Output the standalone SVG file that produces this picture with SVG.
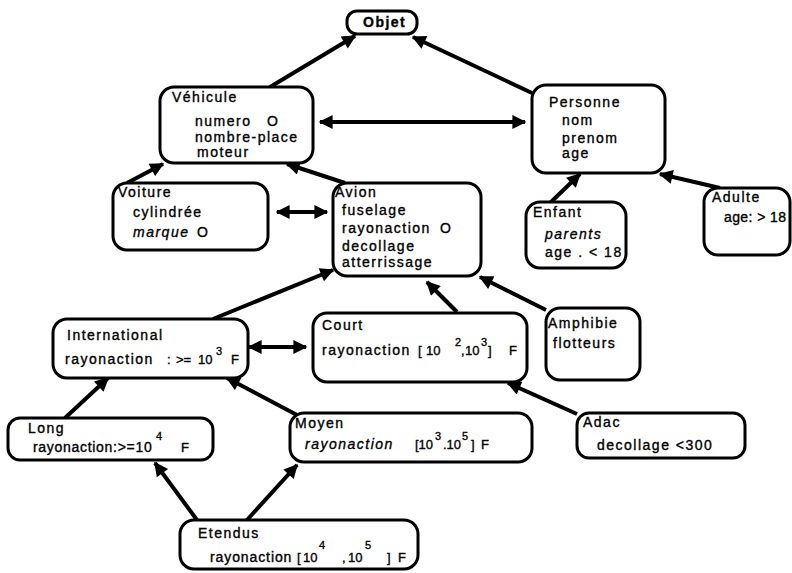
<svg xmlns="http://www.w3.org/2000/svg" width="792" height="573" viewBox="0 0 792 573">
<style>
.box{fill:#fff;stroke:#000;stroke-width:3}
text{font-family:"Liberation Sans",Arial,sans-serif;font-size:14px;fill:#000;stroke:#000;stroke-width:0.35;letter-spacing:1.5px}
.n{font-size:13px;letter-spacing:0}
.sup{font-size:11px;letter-spacing:0}
.it{font-style:italic}
.c line{stroke:#000;stroke-width:4;marker-end:url(#ah)}
.c line.d{marker-start:url(#ah)}
</style>
<defs>
<marker id="ah" viewBox="0 0 10 10" refX="9" refY="5" markerWidth="17" markerHeight="14" markerUnits="userSpaceOnUse" orient="auto-start-reverse">
<path d="M0,0 L10,5 L0,10 z" fill="#000"/>
</marker>
</defs>
<rect width="792" height="573" fill="#fff"/>
<g class="c" id="connectors">
<line x1="270" y1="87" x2="355" y2="36"/>
<line x1="532" y1="93" x2="413" y2="37"/>
<line class="d" x1="320" y1="122" x2="525" y2="122"/>
<line x1="550" y1="203" x2="580" y2="174"/>
<line x1="720" y1="188" x2="660" y2="174"/>
<line x1="127" y1="183" x2="163" y2="164"/>
<line x1="345" y1="183" x2="287" y2="164"/>
<line class="d" x1="277" y1="212" x2="327" y2="212"/>
<line x1="213" y1="319" x2="333" y2="270"/>
<line x1="457" y1="312" x2="427" y2="282"/>
<line x1="546" y1="310" x2="480" y2="277"/>
<line class="d" x1="249" y1="347" x2="306" y2="347"/>
<line x1="577" y1="414" x2="508" y2="383"/>
<line x1="65" y1="418" x2="108" y2="378"/>
<line x1="297" y1="415" x2="227" y2="378"/>
<line x1="197" y1="520" x2="155" y2="463"/>
<line x1="247" y1="520" x2="297" y2="465"/>
</g>
<g id="objet">
<rect class="box" x="347" y="11" width="70" height="23" rx="10"/>
<text x="363" y="27" font-weight="bold">Objet</text>
</g>
<g id="vehicule">
<rect class="box" x="160" y="87" width="153" height="76" rx="14"/>
<text x="172" y="102">Véhicule</text>
<text x="195" y="126">numero</text>
<text x="267" y="126">O</text>
<text x="195" y="142">nombre-place</text>
<text x="197" y="157">moteur</text>
</g>
<g id="personne">
<rect class="box" x="532" y="85" width="133" height="88" rx="14"/>
<text x="549" y="107">Personne</text>
<text x="562" y="125">nom</text>
<text x="562" y="143">prenom</text>
<text x="562" y="158">age</text>
</g>
<g id="enfant">
<rect class="box" x="526" y="202" width="100" height="66" rx="14"/>
<text x="533" y="217">Enfant</text>
<text x="545" y="239" class="it">parents</text>
<text x="545" y="257">age . &lt; 18</text>
</g>
<g id="adulte">
<rect class="box" x="704" y="188" width="86" height="67" rx="14"/>
<text x="712" y="202">Adulte</text>
<text x="724" y="222" style="letter-spacing:0.4px">age: &gt; 18</text>
</g>
<g id="voiture">
<rect class="box" x="113" y="183" width="155" height="67" rx="14"/>
<text x="118" y="197">Voiture</text>
<text x="133" y="217">cylindrée</text>
<text x="133" y="237" class="it">marque</text>
<text x="197" y="237">O</text>
</g>
<g id="avion">
<rect class="box" x="333" y="183" width="148" height="93" rx="14"/>
<text x="335" y="197">Avion</text>
<text x="342" y="215">fuselage</text>
<text x="342" y="233">rayonaction</text>
<text x="440" y="233">O</text>
<text x="342" y="251">decollage</text>
<text x="342" y="267">atterrissage</text>
</g>
<g id="international">
<rect class="box" x="53" y="319" width="195" height="59" rx="14"/>
<text x="67" y="340">International</text>
<text x="65" y="364">rayonaction</text>
<text x="167" y="364" class="n">:</text>
<text x="176" y="364" class="n">&gt;=</text>
<text x="198" y="364" class="n">10</text>
<text x="216" y="355" class="sup">3</text>
<text x="231" y="364" class="n">F</text>
</g>
<g id="court">
<rect class="box" x="313" y="313" width="214" height="69" rx="14"/>
<text x="322" y="330">Court</text>
<text x="322" y="355">rayonaction</text>
<text x="418" y="355" class="n">[</text>
<text x="426" y="355" class="n">10</text>
<text x="455" y="346" class="sup">2</text>
<text x="461" y="355" class="n">,</text>
<text x="465" y="355" class="n">10</text>
<text x="481" y="346" class="sup">3</text>
<text x="488" y="355" class="n">]</text>
<text x="509" y="355" class="n">F</text>
</g>
<g id="amphibie">
<rect class="box" x="546" y="308" width="94" height="72" rx="14"/>
<text x="548" y="328">Amphibie</text>
<text x="553" y="348">flotteurs</text>
</g>
<g id="adac">
<rect class="box" x="577" y="413" width="168" height="45" rx="12"/>
<text x="583" y="427">Adac</text>
<text x="597" y="450">decollage &lt;300</text>
</g>
<g id="long">
<rect class="box" x="8" y="418" width="205" height="42" rx="12"/>
<text x="28" y="433">Long</text>
<text x="33" y="452" style="letter-spacing:0.7px">rayonaction:&gt;=10</text>
<text x="156" y="440" class="sup">4</text>
<text x="181" y="452" class="n">F</text>
</g>
<g id="moyen">
<rect class="box" x="290" y="413" width="242" height="49" rx="14"/>
<text x="295" y="428">Moyen</text>
<text x="305" y="449" class="it">rayonaction</text>
<text x="415" y="449" class="n">[10</text>
<text x="435" y="440" class="sup">3</text>
<text x="443" y="449" class="n">.10</text>
<text x="462" y="440" class="sup">5</text>
<text x="471" y="449" class="n">]</text>
<text x="481" y="449" class="n">F</text>
</g>
<g id="etendus">
<rect class="box" x="180" y="520" width="238" height="49" rx="14"/>
<text x="198" y="538">Etendus</text>
<text x="210" y="562" style="letter-spacing:0.9px">rayonaction</text>
<text x="297" y="562" class="n">[</text>
<text x="303" y="562" class="n">10</text>
<text x="319" y="549" class="sup">4</text>
<text x="342" y="562" class="n">,</text>
<text x="348" y="562" class="n">10</text>
<text x="365" y="549" class="sup">5</text>
<text x="387" y="562" class="n">]</text>
<text x="398" y="562" class="n">F</text>
</g>
</svg>
